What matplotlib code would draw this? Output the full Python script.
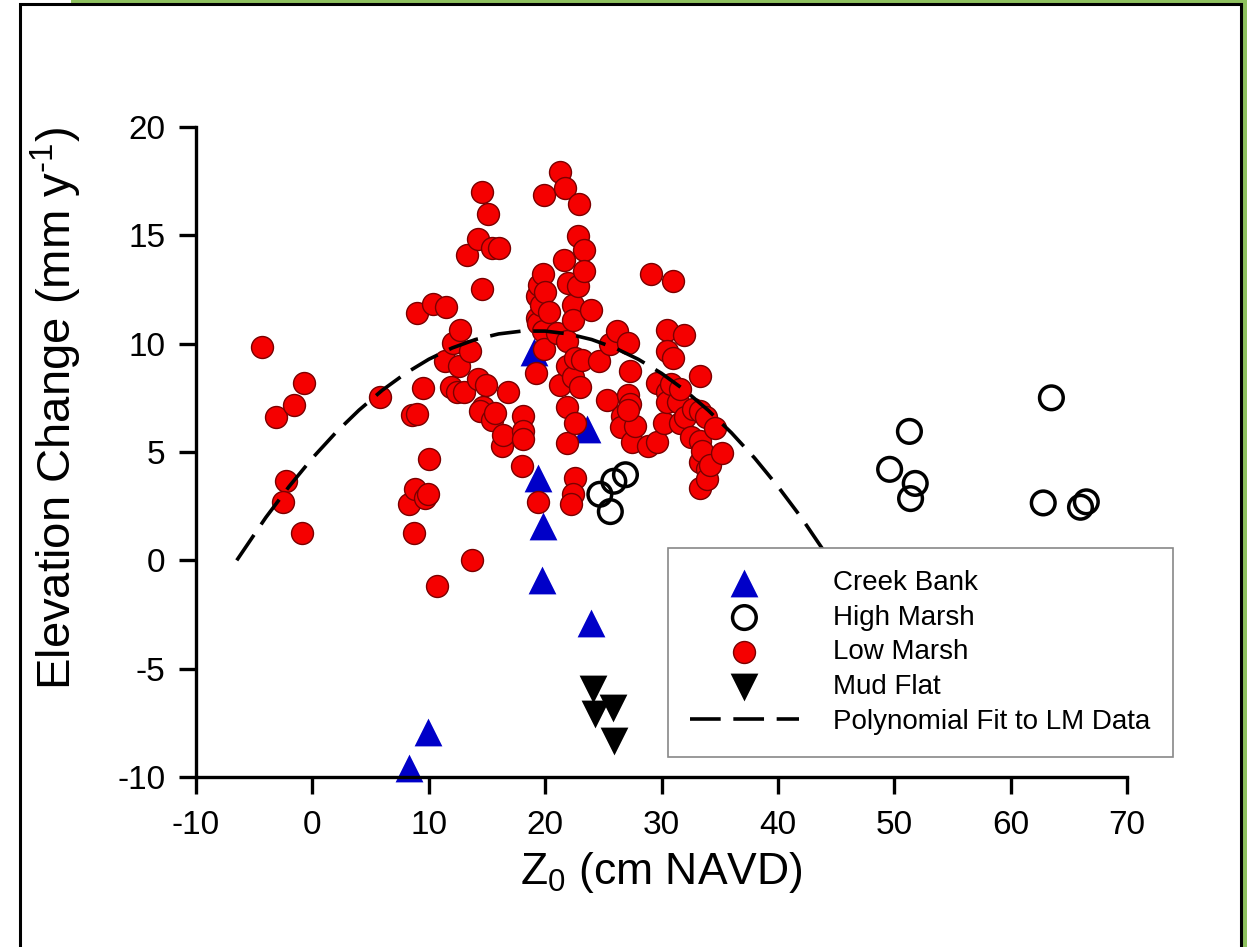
import matplotlib
matplotlib.use("Agg")
import matplotlib.pyplot as plt
from matplotlib.patches import Rectangle

plt.rcParams['font.family'] = ['Liberation Sans', 'DejaVu Sans']
plt.rcParams['mathtext.fontset'] = 'custom'
plt.rcParams['mathtext.rm'] = 'Liberation Sans'
plt.rcParams['mathtext.it'] = 'Liberation Sans:italic'
plt.rcParams['mathtext.bf'] = 'Liberation Sans:bold'
plt.rcParams['axes.unicode_minus'] = False

# Creek Bank
cb_x = [8.3, 9.9, 19.0, 19.4, 19.8, 19.7, 23.6, 23.9]
cb_y = [-9.6, -7.9, 9.6, 3.8, 1.6, -0.9, 6.05, -2.9]

# High Marsh
hm_x = [24.7, 25.6, 25.9, 26.9, 49.6, 51.3, 51.4, 51.8, 62.8, 63.5, 66.0, 66.5]
hm_y = [3.05, 2.25, 3.65, 3.95, 4.2, 5.95, 2.85, 3.55, 2.65, 7.5, 2.45, 2.7]

# Mud Flat
mf_x = [24.1, 24.3, 25.8, 25.9]
mf_y = [-5.95, -7.1, -6.8, -8.35]

# Low Marsh
lm_x = [-4.3, -3.1, -2.3, -2.5, -1.6, -0.9, -0.7, 5.8,
        8.3, 8.6, 9.0, 8.7, 8.8, 9.0, 9.5, 9.7, 9.9, 10.0, 10.4, 10.7, 11.4, 11.5, 11.9, 12.1,
        12.4, 12.6, 12.7, 13.0, 13.3, 13.5, 13.7, 14.2, 14.2, 14.6, 14.6, 14.9, 14.7, 14.4,
        15.1, 15.4, 16.0, 15.4, 15.7, 16.3, 16.4, 16.8,
        18.0, 18.1, 18.1, 18.1,
        19.2, 19.3, 19.3, 19.4, 19.5, 19.8, 19.8, 19.9, 19.6, 20.0, 20.3, 19.9, 19.4,
        21.0, 21.3, 21.7, 21.6, 21.3, 21.9, 21.9, 21.9, 21.9, 22.0, 22.4, 22.4, 22.4, 22.6,
        22.4, 22.2, 22.6, 22.6, 22.8, 22.8, 22.9, 23.0, 23.2, 23.3, 23.3, 23.9,
        24.6, 25.3, 25.6, 26.2, 26.6, 26.5, 27.1, 27.1, 27.3, 27.3, 27.5, 27.7, 27.1,
        28.8, 29.1, 29.6, 29.6, 30.2, 30.5, 30.5, 30.5, 30.5, 30.8, 31.0, 31.0, 31.4, 31.6,
        31.6, 31.9, 32.0, 32.5, 32.7, 33.3, 33.3, 33.3, 33.3, 33.3, 33.5, 33.8, 33.9, 33.9,
        34.2, 34.6, 35.2]
lm_y = [9.85, 6.6, 3.65, 2.7, 7.15, 1.25, 8.2, 7.55,
        2.6, 6.7, 6.75, 1.25, 3.3, 11.4, 7.95, 2.9, 3.05, 4.7, 11.85, -1.2, 9.2, 11.7, 8.0, 10.05,
        7.75, 8.95, 10.65, 7.75, 14.1, 9.65, 0.0, 14.85, 8.35, 17.0, 12.5, 8.1, 7.1, 6.9,
        16.0, 14.4, 14.4, 6.5, 6.8, 5.3, 5.8, 7.75,
        4.35, 6.65, 5.95, 5.6,
        8.65, 12.2, 11.2, 10.95, 12.7, 13.2, 10.6, 9.75, 11.8, 12.4, 11.45, 16.85, 2.7,
        10.5, 17.9, 17.2, 13.85, 8.1, 10.1, 8.95, 7.1, 5.4, 12.8, 11.8, 11.1, 8.45, 3.8,
        3.05, 2.6, 9.35, 6.35, 14.95, 12.65, 16.45, 8.0, 9.25, 14.3, 13.35, 11.55,
        9.2, 7.4, 10.0, 10.6, 6.65, 6.15, 10.05, 7.65, 7.2, 8.75, 5.45, 6.2, 6.95,
        5.3, 13.2, 5.45, 8.2, 6.35, 10.65, 9.65, 7.75, 7.3, 8.15, 12.9, 9.35, 7.3, 6.35,
        7.9, 10.4, 6.6, 5.7, 7.0, 8.5, 6.9, 5.5, 4.55, 3.35, 5.05, 6.6, 4.2, 3.75,
        4.4, 6.1, 4.95]

# polynomial fit curve
fit_x = [-6.5, -4, -2, 0, 2, 4, 6, 8, 10, 12, 14, 16, 18, 20, 22, 24, 26, 28, 30,
         32, 34, 36, 38, 40, 42, 44.5]
fit_y = [0.0, 1.98, 3.41, 4.72, 5.89, 6.93, 7.85, 8.63, 9.28, 9.80, 10.19, 10.45, 10.58,
         10.58, 10.45, 10.19, 9.80, 9.28, 8.63, 7.85, 6.93, 5.89, 4.72, 3.41, 1.98, 0.0]

fig = plt.figure(figsize=(12.47, 9.47), dpi=100)

# green page border behind a black-edged white frame
fig.patches.append(Rectangle((71 / 1247, 0), 1, 1.0, transform=fig.transFigure,
                             facecolor='#8ec15f', edgecolor='none', zorder=-3))
fig.patches.append(Rectangle((20 / 1247, -0.05), 1221 / 1247, 1.05 - 4 / 947,
                             transform=fig.transFigure, facecolor='white',
                             edgecolor='black', linewidth=2.2, zorder=-2))

ax = fig.add_axes([0.1572, 0.1795, 0.7466, 0.6864])
ax.patch.set_alpha(0)

h_cb = ax.scatter(cb_x, cb_y, marker='^', s=400, color='#0000c8', linewidths=0,
                  clip_on=False, zorder=2, label='Creek Bank')
h_hm = ax.scatter(hm_x, hm_y, marker='o', s=290, facecolors='none', edgecolors='black',
                  linewidths=2.5, clip_on=False, zorder=3, label='High Marsh')
h_lm = ax.scatter(lm_x, lm_y, marker='o', s=250, facecolors='#f50000', edgecolors='#7a0000',
                  linewidths=1.0, clip_on=False, zorder=3, label='Low Marsh')
h_mf = ax.scatter(mf_x, mf_y, marker='v', s=400, color='black', linewidths=0,
                  clip_on=False, zorder=3, label='Mud Flat')
h_fit, = ax.plot(fit_x, fit_y, color='black', linewidth=2.6, dashes=(8.5, 3.5),
                 zorder=4, label='Polynomial Fit to LM Data')

ax.set_xlim(-10, 70)
ax.set_ylim(-10, 20)
ax.set_xticks(range(-10, 71, 10))
ax.set_yticks(range(-10, 21, 5))
for side in ['top', 'right']:
    ax.spines[side].set_visible(False)
for side in ['left', 'bottom']:
    ax.spines[side].set_linewidth(2.4)
ax.tick_params(direction='out', length=12, width=2.4, labelsize=24)
ax.tick_params(axis='x', pad=12)
ax.tick_params(axis='y', pad=10)

ax.set_xlabel('Z$_0$ (cm NAVD)', fontsize=32)
ax.xaxis.set_label_coords(0.5, -0.113)
ax.set_ylabel(r'Elevation Change (mm y$^{\text{-}1}$)', fontsize=34)
ax.yaxis.set_label_coords(-0.12, 0.567)

leg = ax.legend(handles=[h_cb, h_hm, h_lm, h_mf, h_fit], loc='upper left',
                bbox_to_anchor=(668 / 1247, 1 - 548 / 947), bbox_transform=fig.transFigure,
                borderaxespad=0, fontsize=20, frameon=True, fancybox=False,
                edgecolor='#888888', framealpha=1, handlelength=3.9, handletextpad=1.25,
                labelspacing=0.31, borderpad=0.8, scatterpoints=1)
leg.get_frame().set_linewidth(1.2)

fig.savefig('out.png', dpi=100)
